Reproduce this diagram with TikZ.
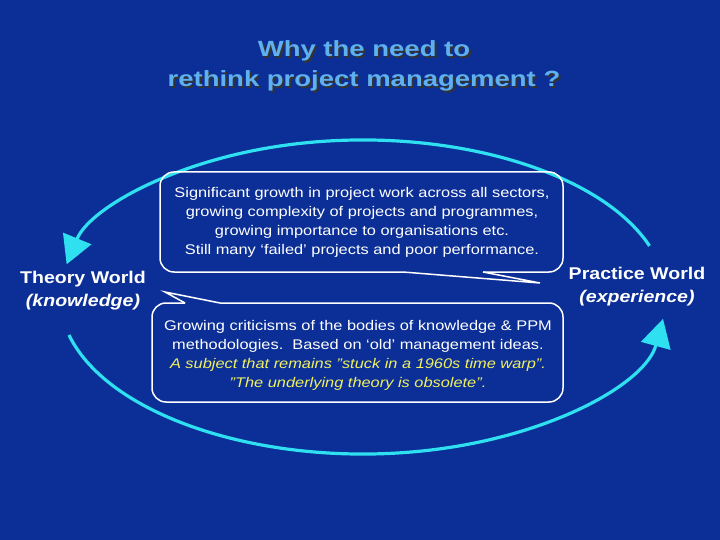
\documentclass[tikz,border=0pt]{standalone}
\usepackage{fontspec}
\setmainfont{Liberation Sans}
\usetikzlibrary{arrows.meta}
\definecolor{bg}{HTML}{0B2F97}
\definecolor{cyanl}{HTML}{2EE0F0}
\definecolor{titlec}{HTML}{5FB0F0}
\definecolor{yel}{HTML}{F0F060}
\begin{document}
\begin{tikzpicture}[x=1pt,y=-1pt,
  body/.style={text=white,font=\fontsize{14}{19}\selectfont,align=center,xscale=1.17},
  world/.style={text=white,font=\fontsize{17}{23}\selectfont\bfseries,align=center,xscale=1.15},
  ttl/.style={font=\fontsize{22}{30}\selectfont\bfseries,align=center,xscale=1.25},
  cyc/.style={draw=cyanl,line width=3.2pt,-{Triangle[length=28pt,width=30pt]}},
  callout/.style={draw=white,line width=1.5pt,rounded corners=14pt,line join=round}]
\fill[bg] (0,0) rectangle (720,540);
\useasboundingbox (0,0) rectangle (720,540);
% title
\node[ttl,text=black!80] (tsh) at (366,68) {Why the need to\\rethink project management ?};
\node[ttl,text=titlec] (title) at (364,66) {Why the need to\\rethink project management ?};
% cycle
\coordinate (c) at (363,297);
\draw[cyc] ([shift={(19:303 and -157)}]c) arc[start angle=19,end angle=168,x radius=303,y radius=-157];
\draw[cyc] ([shift={(194:303 and -157)}]c) arc[start angle=194,end angle=352,x radius=303,y radius=-157];
% callouts
\draw[callout] (403,272) -- (160,272) -- (160,172) -- (563,172) -- (563,272) -- (483,272);
\draw[white,line width=1.5pt,line join=miter] (403,272) -- (540,283) -- (483,272);
\draw[callout] (220,303) -- (563,303) -- (563,402) -- (152,402) -- (152,303) -- (185,303);
\draw[white,line width=1.5pt] (220,303) -- (165,292) -- (185,303);
\node[body] (top) at (362,222) {Significant growth in project work across all sectors,\\growing complexity of projects and programmes,\\growing importance to organisations etc.\\Still many ‘failed’ projects and poor performance.};
\node[body] (bot) at (358,355) {Growing criticisms of the bodies of knowledge \& PPM\\methodologies.\ \ Based on ‘old’ management ideas.\\\textcolor{yel}{\itshape A subject that remains "stuck in a 1960s time warp”.}\\\textcolor{yel}{\itshape "The underlying theory is obsolete”.}};
\node[world] (theory) at (83,291) {Theory World\\\itshape(knowledge)};
\node[world] (practice) at (637,287) {Practice World\\\itshape(experience)};
\end{tikzpicture}
\end{document}
